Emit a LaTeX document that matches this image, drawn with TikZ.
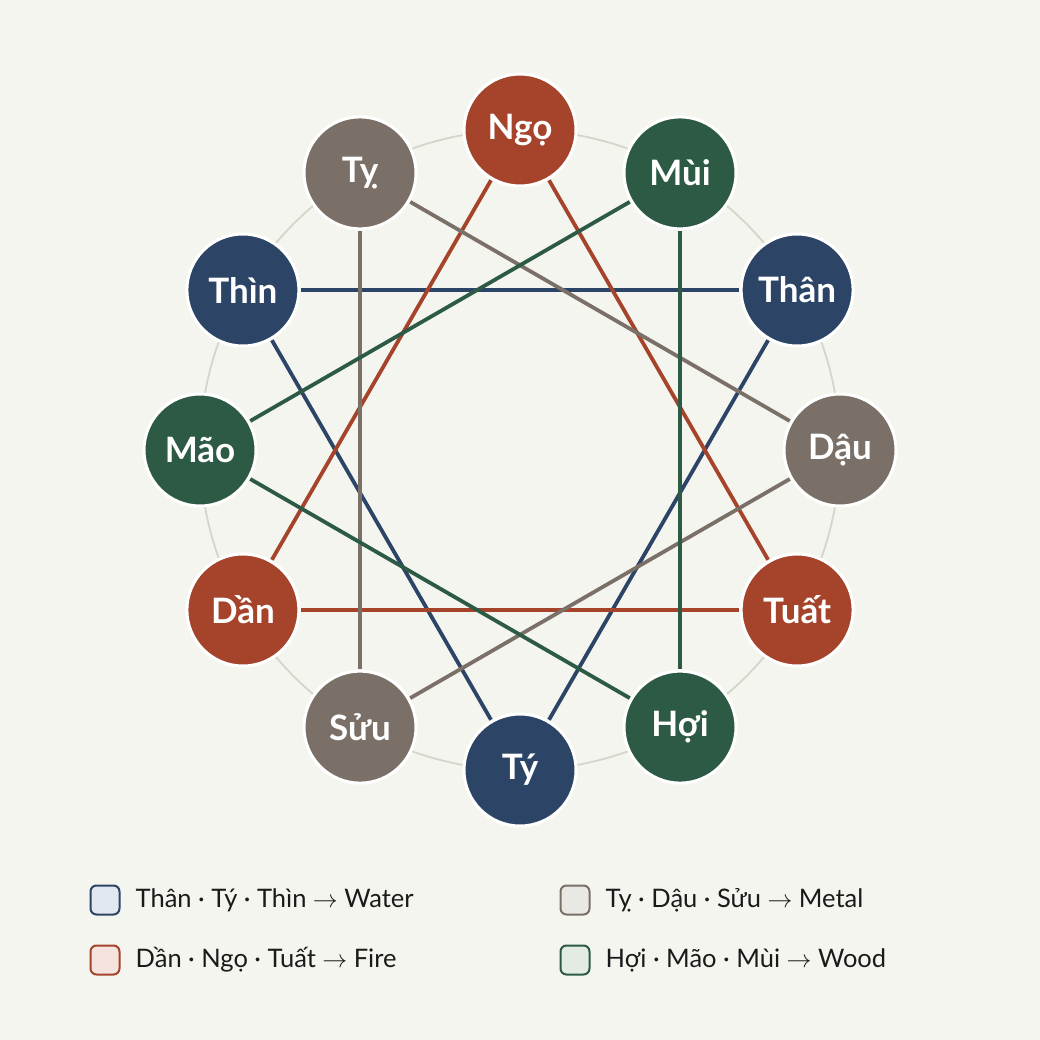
\documentclass[tikz,border=0pt]{standalone}
\usepackage{fontspec}
\setmainfont{Lato}
\usetikzlibrary{positioning}
\definecolor{bg}{HTML}{F5F5F0}
\definecolor{water}{HTML}{2C4466}
\definecolor{fire}{HTML}{A5432B}
\definecolor{metal}{HTML}{7A7068}
\definecolor{wood}{HTML}{2D5A45}
\definecolor{waterL}{HTML}{E2E8F0}
\definecolor{fireL}{HTML}{F5E3DD}
\definecolor{metalL}{HTML}{EAE8E4}
\definecolor{woodL}{HTML}{E2EBE4}
\definecolor{ring}{HTML}{D3D6C9}
\definecolor{txt}{HTML}{1A1A1A}
\tikzset{
  branch/.style={circle, draw=white, line width=3pt, minimum size=112pt, inner sep=0pt, outer sep=2pt, text=white, font=\fontsize{35}{35}\selectfont\bfseries},
  link/.style={line width=3.8pt},
  key/.style={rectangle, rounded corners=6pt, line width=2pt, minimum size=29pt, inner sep=0pt},
  keytext/.style={anchor=west, text=txt, font=\fontsize{25.5}{25.5}\selectfont, inner sep=0pt}
}
\begin{document}
\begin{tikzpicture}[x=1pt,y=-1pt]
\fill[bg] (0,0) rectangle (1040,1040);
\useasboundingbox (0,0) rectangle (1040,1040);
\coordinate (c) at (520,450);
\draw[ring, line width=1.8pt] (c) circle[radius=320pt];
% nodes
\node[branch, fill=fire]  (ngo)  at (520,130) {Ngọ};
\node[branch, fill=wood]  (mui)  at (680,172.9) {Mùi};
\node[branch, fill=water] (than) at (797.1,290) {Thân};
\node[branch, fill=metal] (dau)  at (840,450) {Dậu};
\node[branch, fill=fire]  (tuat) at (797.1,610) {Tuất};
\node[branch, fill=wood]  (hoi)  at (680,727.1) {Hợi};
\node[branch, fill=water] (ty)   at (520,770) {Tý};
\node[branch, fill=metal] (suu)  at (360,727.1) {Sửu};
\node[branch, fill=fire]  (dan)  at (242.9,610) {Dần};
\node[branch, fill=wood]  (mao)  at (200,450) {Mão};
\node[branch, fill=water] (thin) at (242.9,290) {Thìn};
\node[branch, fill=metal] (tyj)  at (360,172.9) {Tỵ};
% links
\draw[link, water] (thin) -- (than);
\draw[link, water] (thin) -- (ty);
\draw[link, water] (than) -- (ty);
\draw[link, fire] (dan) -- (ngo);
\draw[link, fire] (ngo) -- (tuat);
\draw[link, fire] (dan) -- (tuat);
\draw[link, metal] (tyj) -- (dau);
\draw[link, metal] (dau) -- (suu);
\draw[link, metal] (tyj) -- (suu);
\draw[link, wood] (mao) -- (mui);
\draw[link, wood] (mui) -- (hoi);
\draw[link, wood] (mao) -- (hoi);
% legend
\node[key, draw=water, fill=waterL] (k1) at (105,900) {};
\node[keytext, right=15pt of k1] (t1) {Thân · Tý · Thìn $\rightarrow$ Water};
\node[key, draw=fire, fill=fireL] (k2) at (105,960) {};
\node[keytext, right=15pt of k2] (t2) {Dần · Ngọ · Tuất $\rightarrow$ Fire};
\node[key, draw=metal, fill=metalL] (k3) at (575,900) {};
\node[keytext, right=15pt of k3] (t3) {Tỵ · Dậu · Sửu $\rightarrow$ Metal};
\node[key, draw=wood, fill=woodL] (k4) at (575,960) {};
\node[keytext, right=15pt of k4] (t4) {Hợi · Mão · Mùi $\rightarrow$ Wood};
\end{tikzpicture}
\end{document}
